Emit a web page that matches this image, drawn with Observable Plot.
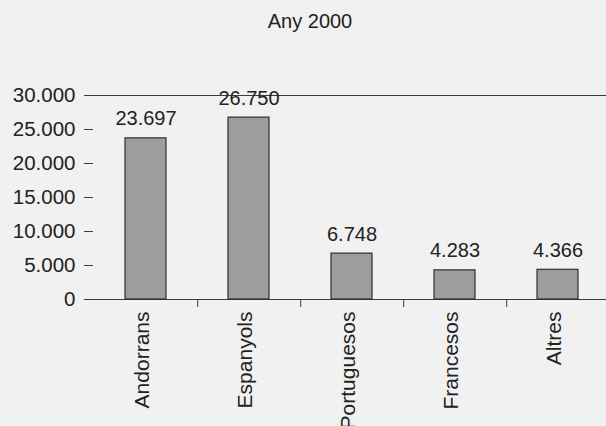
<!DOCTYPE html>
<html>
<head>
<meta charset="utf-8">
<script src="https://cdn.jsdelivr.net/npm/d3@7"></script>
<script src="https://cdn.jsdelivr.net/npm/@observablehq/plot@0.6"></script>
<style>
  html, body { margin: 0; padding: 0; background: #f1f1f1; overflow: hidden; }
  #title { height: 50px; box-sizing: border-box; padding-top: 11px; padding-left: 14px; width: 606px; text-align: center;
           font: 20px "Liberation Sans", Arial, sans-serif; line-height: 20px; color: #222; }
  svg { display: block; }
</style>
</head>
<body>
<div id="title">Any 2000</div>
<div id="chart"></div>
<script>
// Population by nationality, year 2000
const categories = ["Andorrans", "Espanyols", "Portuguesos", "Francesos", "Altres"];
const values = [23697, 26750, 6748, 4283, 4366];
const yTicks = [0, 5000, 10000, 15000, 20000, 25000, 30000];

const data = categories.map((c, i) => ({category: c, value: values[i]}));

const fmt = d3.formatLocale({decimal: ",", thousands: ".", grouping: [3], currency: ["", "€"]}).format(",d");

// the category band runs a little past the right edge of the page
const left = 93, right = 610;
const step = (right - left) / categories.length;
const ink = "#3a3a3a";

const chart = Plot.plot({
  width: 606,
  height: 376,
  marginTop: 45,
  marginBottom: 127,
  marginLeft: left,
  marginRight: 0,
  style: {background: "transparent", fontFamily: "'Liberation Sans', Arial, sans-serif", fontSize: "20px", color: "#222"},
  x: {domain: categories, range: [left, right], paddingInner: 0.6, paddingOuter: 0.3, label: null},
  y: {domain: [0, 30000], label: null},
  marks: [
    Plot.ruleY([0, 30000], {stroke: ink, strokeWidth: 1.2}),
    Plot.barY(data, {x: "category", y: "value", fill: "#9d9d9d", stroke: "#2e2e2e", strokeWidth: 1.2}),
    Plot.text(data, {x: "category", y: "value", text: d => fmt(d.value), lineAnchor: "bottom", dy: -13, fontSize: 20, fill: "#222"}),
    Plot.axisY({ticks: yTicks, tickFormat: fmt, tickSize: 9, tickPadding: 9, stroke: ink, fontSize: 20.5, fill: "#222"}),
    Plot.ruleX([0], {x: () => left, y1: 0, y2: 30000, stroke: ink, strokeWidth: 1.2}),
    Plot.axisX({tickSize: 8, dx: step / 2, tickFormat: () => "", stroke: ink}),
    Plot.axisX({tickSize: 0, tickPadding: 12, tickRotate: -90, fontSize: 21, fill: "#222", dx: -4})
  ]
});

document.getElementById("chart").appendChild(chart);
</script>
</body>
</html>
